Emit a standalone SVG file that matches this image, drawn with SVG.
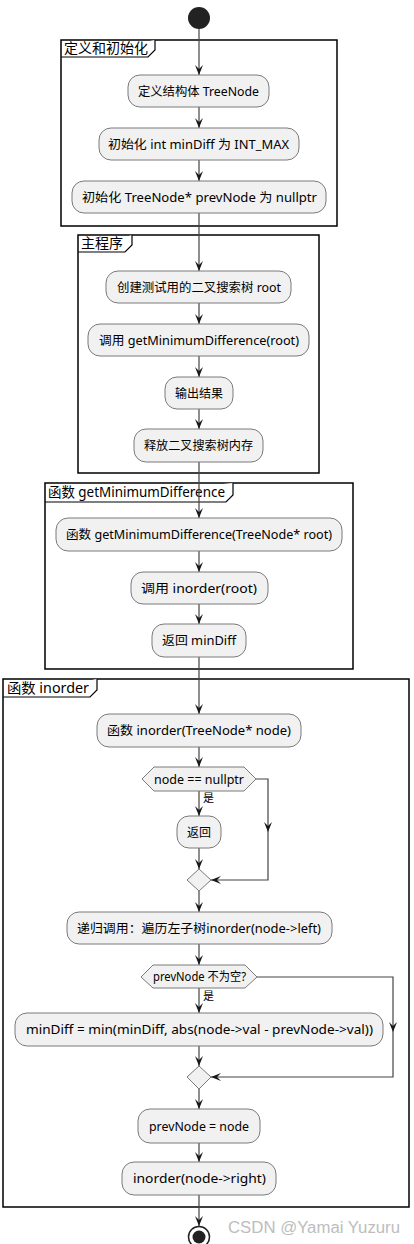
<svg xmlns="http://www.w3.org/2000/svg" width="414" height="1244" viewBox="0 0 414 1244">
<defs>
<marker id="ah" markerUnits="userSpaceOnUse" markerWidth="10" markerHeight="8" refX="10" refY="4" orient="auto" viewBox="0 0 10 8">
<path d="M0,0 L10,4 L0,8 L4,4 Z" fill="#181818"/>
</marker>
<style>
.part{fill:none;stroke:#000;stroke-width:1.5}
.tab{fill:#fff;stroke:#000;stroke-width:1.2}
.pl{font-family:"Noto Sans","Noto Sans CJK SC",sans-serif;font-size:14px;fill:#000}
.box{fill:#F1F1F1;stroke:#7a7a7a;stroke-width:1}
.t{font-family:"Noto Sans","Noto Sans CJK SC",sans-serif;font-size:12.5px;fill:#000;text-anchor:middle}
.lb{font-family:"Noto Sans","Noto Sans CJK SC",sans-serif;font-size:11px;fill:#000}
.ln{fill:none;stroke:#444;stroke-width:1.2}
.mid{fill:#181818}
</style>
</defs>
<rect width="414" height="1244" fill="#fff"/>

<g id="partitions">
<g id="p1">
<rect class="part" x="61" y="40" width="276" height="186"/>
<path class="tab" d="M61,57 L148,57 L155,50 L155,40"/>
<text class="pl" x="64" y="53">定义和初始化</text>
</g>
<g id="p2">
<rect class="part" x="78" y="235" width="241" height="238"/>
<path class="tab" d="M78,252 L125,252 L132,245 L132,235"/>
<text class="pl" x="81" y="248">主程序</text>
</g>
<g id="p3">
<rect class="part" x="45" y="483" width="308" height="186"/>
<path class="tab" d="M45,502 L226,502 L233,495 L233,483"/>
<text class="pl" x="48" y="497" textLength="177" lengthAdjust="spacingAndGlyphs">函数 getMinimumDifference</text>
</g>
<g id="p4">
<rect class="part" x="3" y="679" width="406" height="528"/>
<path class="tab" d="M3,697 L90,697 L97,690 L97,679"/>
<text class="pl" x="7" y="693" textLength="82" lengthAdjust="spacingAndGlyphs">函数 inorder</text>
</g>
</g>

<g id="connectors">
<line class="ln" x1="199" y1="29" x2="199" y2="75" marker-end="url(#ah)"/>
<line class="ln" x1="199" y1="107" x2="199" y2="128" marker-end="url(#ah)"/>
<line class="ln" x1="199" y1="160" x2="199" y2="181" marker-end="url(#ah)"/>
<line class="ln" x1="199" y1="213" x2="199" y2="271" marker-end="url(#ah)"/>
<line class="ln" x1="199" y1="303" x2="199" y2="324" marker-end="url(#ah)"/>
<line class="ln" x1="199" y1="356" x2="199" y2="377" marker-end="url(#ah)"/>
<line class="ln" x1="199" y1="409" x2="199" y2="429" marker-end="url(#ah)"/>
<line class="ln" x1="199" y1="462" x2="199" y2="518" marker-end="url(#ah)"/>
<line class="ln" x1="199" y1="551" x2="199" y2="572" marker-end="url(#ah)"/>
<line class="ln" x1="199" y1="604" x2="199" y2="624" marker-end="url(#ah)"/>
<line class="ln" x1="199" y1="657" x2="199" y2="714" marker-end="url(#ah)"/>
<line class="ln" x1="199" y1="747" x2="199" y2="767" marker-end="url(#ah)"/>
<line class="ln" x1="199" y1="791" x2="199" y2="816" marker-end="url(#ah)"/>
<line class="ln" x1="199" y1="848" x2="199" y2="869" marker-end="url(#ah)"/>
<path class="ln" d="M256,779 H268 V880 H211" marker-end="url(#ah)"/>
<path class="mid" d="M264,822 L268,832 L272,822 L268,826 Z"/>
<line class="ln" x1="199" y1="891" x2="199" y2="912" marker-end="url(#ah)"/>
<line class="ln" x1="199" y1="944" x2="199" y2="965" marker-end="url(#ah)"/>
<line class="ln" x1="199" y1="988" x2="199" y2="1013" marker-end="url(#ah)"/>
<path class="ln" d="M257,977 H393 V1077 H211" marker-end="url(#ah)"/>
<path class="mid" d="M389,1022 L393,1032 L397,1022 L393,1026 Z"/>
<line class="ln" x1="199" y1="1046" x2="199" y2="1066" marker-end="url(#ah)"/>
<line class="ln" x1="199" y1="1089" x2="199" y2="1109" marker-end="url(#ah)"/>
<line class="ln" x1="199" y1="1143" x2="199" y2="1162" marker-end="url(#ah)"/>
<line class="ln" x1="199" y1="1195" x2="199" y2="1226" marker-end="url(#ah)"/>
<text class="lb" x="203" y="802">是</text>
<text class="lb" x="203" y="1000">是</text>
</g>

<g id="start"><circle cx="199" cy="18" r="11" fill="#222"/></g>

<g id="n1"><rect class="box" x="128" y="75" width="141" height="32" rx="12"/><text class="t" x="198.5" y="95.5" textLength="121" lengthAdjust="spacingAndGlyphs">定义结构体 TreeNode</text></g>
<g id="n2"><rect class="box" x="99" y="128" width="200" height="32" rx="12"/><text class="t" x="198.5" y="148.5" textLength="181" lengthAdjust="spacingAndGlyphs">初始化 int minDiff 为 INT_MAX</text></g>
<g id="n3"><rect class="box" x="72" y="181" width="254" height="32" rx="12"/><text class="t" x="199.5" y="201.5" textLength="235" lengthAdjust="spacingAndGlyphs">初始化 TreeNode* prevNode 为 nullptr</text></g>

<g id="n4"><rect class="box" x="106" y="271" width="185" height="32" rx="12"/><text class="t" x="199" y="291.5" textLength="164" lengthAdjust="spacingAndGlyphs">创建测试用的二叉搜索树 root</text></g>
<g id="n5"><rect class="box" x="88" y="324" width="221" height="32" rx="12"/><text class="t" x="199" y="344.5" textLength="200" lengthAdjust="spacingAndGlyphs">调用 getMinimumDifference(root)</text></g>
<g id="n6"><rect class="box" x="165" y="377" width="68" height="32" rx="12"/><text class="t" x="199" y="397.5" textLength="48" lengthAdjust="spacingAndGlyphs">输出结果</text></g>
<g id="n7"><rect class="box" x="134" y="429" width="129" height="33" rx="12"/><text class="t" x="198.5" y="450" textLength="109" lengthAdjust="spacingAndGlyphs">释放二叉搜索树内存</text></g>

<g id="n8"><rect class="box" x="56" y="518" width="286" height="33" rx="12"/><text class="t" x="199" y="539" textLength="266" lengthAdjust="spacingAndGlyphs">函数 getMinimumDifference(TreeNode* root)</text></g>
<g id="n9"><rect class="box" x="131" y="572" width="137" height="32" rx="12"/><text class="t" x="199" y="592.5" textLength="116" lengthAdjust="spacingAndGlyphs">调用 inorder(root)</text></g>
<g id="n10"><rect class="box" x="152" y="624" width="94" height="33" rx="12"/><text class="t" x="199" y="645" textLength="74" lengthAdjust="spacingAndGlyphs">返回 minDiff</text></g>

<g id="n11"><rect class="box" x="97" y="714" width="204" height="33" rx="12"/><text class="t" x="199" y="735" textLength="184" lengthAdjust="spacingAndGlyphs">函数 inorder(TreeNode* node)</text></g>
<g id="d1"><polygon class="box" points="142,779 154,767 244,767 256,779 244,791 154,791"/><text class="t" x="199" y="783.5" textLength="90" lengthAdjust="spacingAndGlyphs">node == nullptr</text></g>
<g id="n12"><rect class="box" x="177" y="816" width="44" height="32" rx="12"/><text class="t" x="199" y="836.5" textLength="24" lengthAdjust="spacingAndGlyphs">返回</text></g>
<g id="m1"><polygon class="box" points="199,869 211,880 199,891 187,880"/></g>
<g id="n13"><rect class="box" x="67" y="912" width="265" height="32" rx="12"/><text class="t" x="199" y="932.5" textLength="244" lengthAdjust="spacingAndGlyphs">递归调用：遍历左子树inorder(node-&gt;left)</text></g>
<g id="d2"><polygon class="box" points="141,977 153,965 245,965 257,977 245,988 153,988"/><text class="t" x="199.5" y="981" textLength="93" lengthAdjust="spacingAndGlyphs">prevNode 不为空?</text></g>
<g id="n14"><rect class="box" x="15" y="1013" width="368" height="33" rx="12"/><text class="t" x="199.5" y="1034" textLength="347" lengthAdjust="spacingAndGlyphs">minDiff = min(minDiff, abs(node-&gt;val - prevNode-&gt;val))</text></g>
<g id="m2"><polygon class="box" points="199,1066 211,1077 199,1089 187,1077"/></g>
<g id="n15"><rect class="box" x="138" y="1109" width="122" height="34" rx="12"/><text class="t" x="199" y="1130.5" textLength="100" lengthAdjust="spacingAndGlyphs">prevNode = node</text></g>
<g id="n16"><rect class="box" x="122" y="1162" width="154" height="33" rx="12"/><text class="t" x="199.5" y="1183" textLength="133" lengthAdjust="spacingAndGlyphs">inorder(node-&gt;right)</text></g>

<g id="end"><circle cx="199" cy="1237" r="10.5" fill="#fff" stroke="#222" stroke-width="1.5"/><circle cx="199" cy="1237" r="6.5" fill="#222"/></g>

<text x="228" y="1233" font-family="Liberation Sans, Arial, sans-serif" font-size="16" fill="#bdbdbd" textLength="172" lengthAdjust="spacingAndGlyphs">CSDN @Yamai Yuzuru</text>
</svg>
